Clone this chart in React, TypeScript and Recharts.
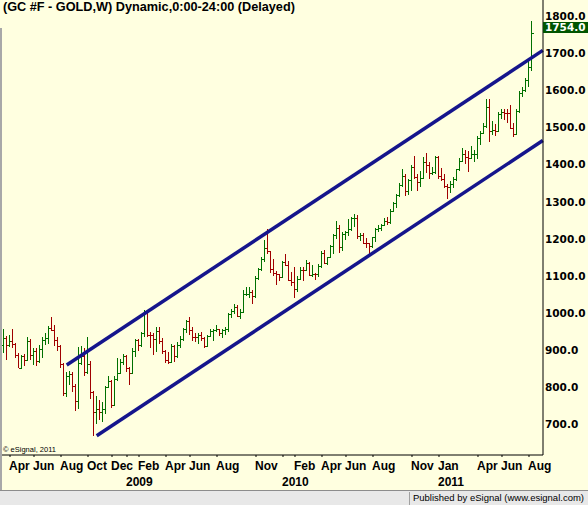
import { ComposedChart, Bar, XAxis, YAxis, ReferenceLine } from "recharts";

// weekly GC bars, week of 24 Mar 2008 .. week of 8 Aug 2011
const opens = [
  915, 933, 914, 925, 917, 887, 853, 883, 873, 925, 887, 898, 870, 904, 928, 932, 960, 955, 928, 912,
  862, 785, 830, 835, 803, 763, 866, 885, 840, 862, 786, 732, 740, 733, 741, 801, 817, 753, 821, 837,
  868, 884, 853, 838, 897, 927, 914, 945, 1002, 942, 940, 929, 952, 924, 898, 873, 869, 911, 885, 915,
  930, 956, 979, 955, 936, 934, 941, 932, 912, 938, 952, 954, 957, 947, 955, 956, 996, 1006, 1017, 991,
  1003, 1050, 1052, 1057, 1046, 1095, 1118, 1146, 1176, 1167, 1118, 1109, 1104, 1096, 1138, 1130, 1090, 1083, 1064, 1092,
  1117, 1116, 1134, 1102, 1105, 1104, 1126, 1162, 1136, 1151, 1180, 1210, 1228, 1177, 1212, 1218, 1227, 1256, 1257, 1208,
  1210, 1189, 1188, 1181, 1205, 1226, 1228, 1237, 1247, 1246, 1275, 1296, 1317, 1346, 1370, 1328, 1358, 1393, 1368, 1352,
  1364, 1406, 1398, 1377, 1381, 1421, 1369, 1360, 1343, 1341, 1348, 1361, 1388, 1410, 1428, 1421, 1419, 1428, 1430, 1472,
  1486, 1505, 1556, 1491, 1494, 1492, 1536, 1542, 1540, 1539, 1500, 1483, 1545, 1594, 1602, 1628, 1664,
];
const highs = [
  958, 937, 940, 958, 920, 892, 888, 890, 935, 930, 907, 905, 913, 935, 946, 965, 988, 968, 934, 914,
  866, 842, 845, 840, 809, 908, 912, 905, 935, 870, 790, 775, 766, 760, 804, 830, 819, 830, 880, 875,
  889, 886, 855, 905, 930, 930, 950, 1007, 1004, 948, 945, 963, 962, 932, 900, 896, 917, 915, 921, 937,
  959, 981, 990, 963, 946, 946, 948, 934, 941, 958, 958, 969, 958, 957, 962, 999, 1010, 1025, 1022, 1010,
  1062, 1070, 1070, 1063, 1100, 1122, 1150, 1196, 1226, 1168, 1145, 1114, 1106, 1141, 1158, 1140, 1110, 1125, 1100, 1125,
  1123, 1142, 1138, 1130, 1108, 1131, 1168, 1170, 1152, 1183, 1212, 1249, 1237, 1219, 1222, 1254, 1260, 1266, 1265, 1215,
  1216, 1203, 1190, 1206, 1230, 1236, 1241, 1256, 1260, 1280, 1300, 1320, 1350, 1387, 1374, 1360, 1398, 1424, 1374, 1382,
  1420, 1432, 1406, 1395, 1424, 1423, 1390, 1375, 1349, 1357, 1366, 1389, 1418, 1445, 1440, 1437, 1450, 1440, 1476, 1490,
  1512, 1576, 1577, 1519, 1510, 1541, 1550, 1551, 1550, 1560, 1512, 1549, 1598, 1610, 1633, 1681, 1786,
];
const lows = [
  893, 872, 908, 905, 880, 851, 850, 856, 870, 873, 860, 858, 866, 880, 915, 917, 952, 910, 898, 853,
  775, 773, 805, 786, 736, 740, 860, 829, 835, 768, 668, 700, 712, 707, 728, 798, 743, 750, 818, 835,
  860, 841, 805, 836, 881, 898, 908, 935, 935, 907, 887, 895, 917, 890, 864, 862, 866, 867, 879, 907,
  924, 945, 942, 924, 923, 916, 925, 905, 910, 934, 925, 950, 937, 933, 940, 948, 986, 997, 988, 985,
  1000, 1045, 1040, 1024, 1040, 1089, 1112, 1138, 1160, 1107, 1100, 1075, 1085, 1095, 1126, 1085, 1073, 1040, 1058, 1090,
  1086, 1112, 1100, 1096, 1088, 1096, 1122, 1133, 1130, 1148, 1160, 1200, 1161, 1166, 1196, 1208, 1222, 1231, 1200, 1193,
  1186, 1175, 1150, 1175, 1192, 1219, 1220, 1234, 1236, 1240, 1271, 1283, 1312, 1340, 1315, 1318, 1328, 1360, 1330, 1340,
  1361, 1378, 1361, 1371, 1376, 1360, 1355, 1336, 1307, 1323, 1336, 1357, 1382, 1407, 1403, 1380, 1414, 1408, 1416, 1453,
  1485, 1500, 1462, 1480, 1478, 1490, 1522, 1520, 1511, 1496, 1475, 1482, 1540, 1582, 1597, 1610, 1653,
];
const closes = [
  933, 914, 925, 917, 887, 853, 883, 873, 925, 887, 898, 870, 904, 928, 932, 960, 955, 928, 912, 862,
  785, 830, 835, 803, 763, 866, 885, 840, 862, 786, 732, 740, 733, 741, 801, 817, 753, 821, 837, 868,
  884, 853, 838, 897, 927, 914, 945, 1002, 942, 940, 929, 952, 924, 898, 873, 869, 911, 885, 915, 930,
  956, 979, 955, 936, 934, 941, 932, 912, 938, 952, 954, 957, 947, 955, 956, 996, 1006, 1017, 991, 1003,
  1050, 1052, 1057, 1046, 1095, 1118, 1146, 1176, 1167, 1118, 1109, 1104, 1096, 1138, 1130, 1090, 1083, 1064, 1092, 1117,
  1116, 1134, 1102, 1105, 1104, 1126, 1162, 1136, 1151, 1180, 1210, 1228, 1177, 1212, 1218, 1227, 1256, 1257, 1208, 1210,
  1189, 1188, 1181, 1205, 1226, 1228, 1237, 1247, 1246, 1275, 1296, 1317, 1346, 1370, 1328, 1358, 1393, 1368, 1352, 1364,
  1406, 1398, 1377, 1381, 1421, 1369, 1360, 1343, 1341, 1348, 1361, 1388, 1410, 1428, 1421, 1419, 1428, 1430, 1472, 1486,
  1505, 1556, 1491, 1494, 1492, 1536, 1542, 1540, 1539, 1500, 1483, 1545, 1594, 1602, 1628, 1664, 1754,
];

// first week of each labelled month (week index) and its label
const monthWeeks = [2, 10, 19, 28, 36, 45, 54, 62, 71, 84, 97, 106, 114, 123, 136, 145, 158, 166, 175];
const monthLabels = ["Apr", "Jun", "Aug", "Oct", "Dec", "Feb", "Apr", "Jun", "Aug", "Nov", "Feb", "Apr", "Jun", "Aug", "Nov", "Jan", "Apr", "Jun", "Aug"];
const yearWeeks = [41, 93, 145];
const yearLabels = ["2009", "2010", "2011"];

const priceTicks = [700, 800, 900, 1000, 1100, 1200, 1300, 1400, 1500, 1600, 1700, 1800];

// trend channel end points [week, price]
const upperChannel = [
  { x: 20.9, y: 860 },
  { x: 179.6, y: 1708 },
];
const lowerChannel = [
  { x: 30.9, y: 669 },
  { x: 179.6, y: 1465 },
];

const BG = "#ffffe0";
const UP = "#007000";
const DOWN = "#a00000";
const CHANNEL = "#15158c";
const SANS = "'Liberation Sans', Arial, sans-serif";

const data = closes.map((c, i) => ({
  w: i,
  open: opens[i],
  high: highs[i],
  low: lows[i],
  close: c,
  range: [lows[i], highs[i]],
}));

function OhlcBar(props: any) {
  const { x, y, width, height, payload } = props;
  if (x == null || y == null) return null;
  const top = Math.min(y, y + height);
  const h = Math.abs(height);
  const span = payload.high - payload.low || 1;
  const py = (p: number) => Math.round(top + ((payload.high - p) / span) * h) + 0.5;
  const cx = Math.floor(x + width / 2) + 0.5;
  const color = payload.close >= payload.open ? UP : DOWN;
  return (
    <g stroke={color} strokeWidth={1} shapeRendering="crispEdges">
      <line x1={cx} x2={cx} y1={top} y2={top + Math.max(h, 1)} />
      <line x1={cx - 2} x2={cx} y1={py(payload.open)} y2={py(payload.open)} />
      <line x1={cx} x2={cx + 2} y1={py(payload.close)} y2={py(payload.close)} />
    </g>
  );
}

function TimeTick(props: any) {
  const { x, y, payload } = props;
  const m = monthWeeks.indexOf(payload.value);
  const yr = yearWeeks.indexOf(payload.value);
  return (
    <g fontFamily={SANS} fontWeight="bold" fontSize={12} fill="#000">
      {m >= 0 && (
        <text x={x - 1} y={y + 12.5} textAnchor="start">
          {monthLabels[m]}
        </text>
      )}
      {yr >= 0 && (
        <text x={x - 1} y={y + 28.5} textAnchor="start">
          {yearLabels[yr]}
        </text>
      )}
    </g>
  );
}

function PriceTick(props: any) {
  const { x, y, payload } = props;
  return (
    <text x={x} y={y} dy="0.36em" textAnchor="start" fontFamily="'DejaVu Sans', sans-serif" fontWeight="bold" fontSize={10.5} fill="#000">
      {Number(payload.value).toFixed(1)}
    </text>
  );
}

export default function App() {
  const last = closes[closes.length - 1];
  return (
    <div style={{ position: "absolute", left: 0, top: 0, width: 588, height: 505, background: BG, overflow: "hidden" }}>
      <ComposedChart width={588} height={490} data={data} margin={{ top: 0, right: 0, bottom: 0, left: 2 }}>
        <XAxis
          type="number"
          dataKey="w"
          domain={[-0.667, 179.667]}
          allowDataOverflow
          ticks={[...monthWeeks, 41, 93]}
          interval={0}
          height={35}
          tickSize={2}
          tickMargin={0}
          axisLine={{ stroke: "#000" }}
          tickLine={{ stroke: "#000" }}
          tick={(p: any) => <TimeTick {...p} />}
        />
        <YAxis
          orientation="right"
          type="number"
          domain={[617.2, 1843.9]}
          allowDataOverflow
          ticks={priceTicks}
          interval={0}
          width={45}
          tickSize={0}
          tickMargin={2}
          tickLine={false}
          axisLine={{ stroke: "#000" }}
          tick={(p: any) => <PriceTick {...p} />}
        />
        <Bar dataKey="range" barSize={3} shape={OhlcBar} isAnimationActive={false} />
        <ReferenceLine segment={upperChannel} stroke={CHANNEL} strokeWidth={3.5} />
        <ReferenceLine segment={lowerChannel} stroke={CHANNEL} strokeWidth={3.5} />
      </ComposedChart>

      <div style={{ position: "absolute", left: 3, top: 0, fontFamily: SANS, fontWeight: "bold", fontSize: 12.7, lineHeight: "15px", color: "#000", whiteSpace: "nowrap" }}>
        (GC #F - GOLD,W) Dynamic,0:00-24:00 (Delayed)
      </div>
      <div style={{ position: "absolute", left: 0, top: 28, width: 2, height: 462, background: "#a8a8a8" }} />
      <div style={{ position: "absolute", left: 3, top: 445, fontFamily: SANS, fontSize: 7.5, lineHeight: "9px", color: "#000", whiteSpace: "nowrap" }}>
        © eSignal, 2011
      </div>
      <div
        style={{
          position: "absolute",
          left: 543,
          top: 22,
          width: 45,
          height: 11,
          background: "#005500",
          color: "#fff",
          fontFamily: "'DejaVu Sans', sans-serif",
          fontWeight: "bold",
          fontSize: 10.5,
          lineHeight: "11px",
          paddingLeft: 2,
          boxSizing: "border-box",
        }}
      >
        {last.toFixed(1)}
      </div>
      <div style={{ position: "absolute", left: 0, top: 490, width: 588, height: 15, background: "#e8e8e8", borderTop: "1px solid #8c8c8c", boxSizing: "border-box" }}>
        <div
          style={{
            position: "absolute",
            left: 409,
            top: 1,
            right: 4,
            height: 13,
            borderLeft: "1px solid #a0a0a0",
            fontFamily: SANS,
            fontSize: 9.5,
            lineHeight: "12px",
            textAlign: "right",
            color: "#000",
            whiteSpace: "nowrap",
          }}
        >
          Published by eSignal (www.esignal.com)
        </div>
      </div>
    </div>
  );
}
